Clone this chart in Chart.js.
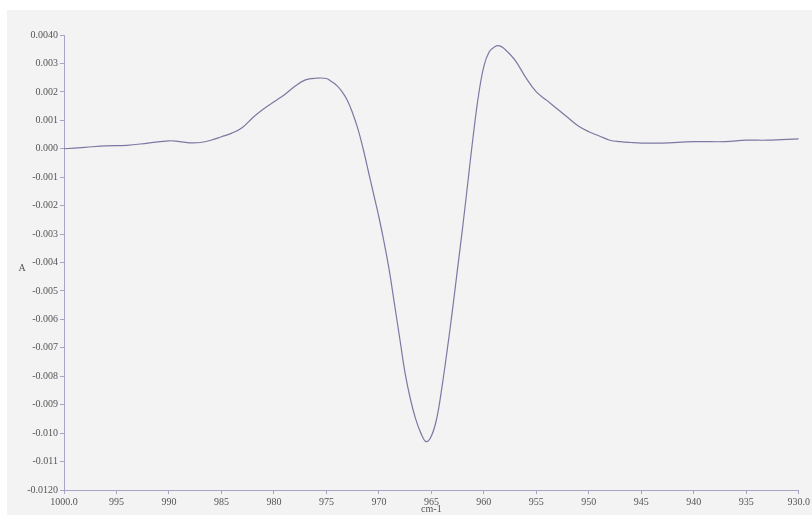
<!DOCTYPE html>
<html>
<head>
<meta charset="utf-8">
<script src="https://cdn.jsdelivr.net/npm/chart.js@4.4.1/dist/chart.umd.min.js"></script>
<style>
  html, body { margin: 0; padding: 0; background: #ffffff; }
  #sheet { position: absolute; left: 7px; top: 10px; width: 805px; height: 505px; background: #f3f3f3; }
  #wrap { position: absolute; left: 0; top: 0; width: 812px; height: 515px; }
</style>
</head>
<body>
<div id="sheet"></div>
<div id="wrap"><canvas id="spectrum" width="812" height="515"></canvas></div>
<script>
// wavenumber (cm-1) and absorbance
const wavenumbers = [1000, 998, 996, 994, 992, 990, 989, 988, 987, 986, 985, 984, 983, 982, 981, 980,
    979, 978, 977, 976, 975, 974.5, 974, 973.5, 973, 972.5, 972, 971.5, 971, 970.5, 970, 969.5, 969, 968.5,
    968, 967.5, 967, 966.5, 966, 965.5, 965, 964.5, 964, 963.5, 963, 962.5, 962, 961.5, 961, 960.5, 960,
    959.5, 959, 958.5, 958, 957, 956, 955, 954, 953, 952, 951, 950, 949, 948, 947, 946, 945, 943, 940,
    937, 935, 933, 930];
const absorbance = [0.0000, 0.00005, 0.0001, 0.00012, 0.0002, 0.00028, 0.00025, 0.00021, 0.00022, 0.0003,
    0.00042, 0.00055, 0.00075, 0.0011, 0.0014, 0.00165, 0.0019, 0.0022, 0.00242, 0.00248, 0.00247, 0.00236,
    0.00222, 0.0020, 0.0017, 0.00125, 0.0007, 0.0000, -0.0008, -0.0016, -0.0024, -0.0033, -0.0043, -0.0055,
    -0.0067, -0.0079, -0.0088, -0.0095, -0.0100, -0.0103, -0.0101, -0.0095, -0.0084, -0.0071, -0.0057,
    -0.0042, -0.0027, -0.0011, 0.0005, 0.0019, 0.0029, 0.0034, 0.00358, 0.00362, 0.0035, 0.0031, 0.0025,
    0.0020, 0.0017, 0.0014, 0.0011, 0.0008, 0.0006, 0.00045, 0.0003, 0.00025, 0.00022, 0.0002, 0.0002,
    0.00025, 0.00025, 0.0003, 0.0003, 0.00035];

const xTicks = [1000, 995, 990, 985, 980, 975, 970, 965, 960, 955, 950, 945, 940, 935, 930];
const yTicks = [0.004, 0.003, 0.002, 0.001, 0, -0.001, -0.002, -0.003, -0.004, -0.005, -0.006,
    -0.007, -0.008, -0.009, -0.010, -0.011, -0.012];

const points = wavenumbers.map((w, i) => ({ x: w, y: absorbance[i] }));

const axisColor = '#a9a4c6';
const textColor = '#555555';
const serif = { family: "'Liberation Serif', 'DejaVu Serif', serif", size: 10 };

// upright "A" beside the absorbance axis
const yTitle = {
    id: 'yTitle',
    afterDraw(chart) {
        const ctx = chart.ctx;
        const area = chart.chartArea;
        ctx.save();
        ctx.font = "10px 'Liberation Serif', serif";
        ctx.fillStyle = textColor;
        ctx.textAlign = 'center';
        ctx.textBaseline = 'middle';
        ctx.fillText('A', 22, (area.top + area.bottom) / 2 + 6);
        ctx.restore();
    }
};

new Chart(document.getElementById('spectrum'), {
    type: 'line',
    data: {
        datasets: [{
            data: points,
            borderColor: '#7b79a2',
            borderWidth: 1.2,
            pointRadius: 0,
            tension: 0.4,
            fill: false
        }]
    },
    options: {
        responsive: false,
        animation: false,
        layout: { padding: { top: 35, right: 12, left: 0, bottom: 0 } },
        plugins: { legend: { display: false }, tooltip: { enabled: false } },
        scales: {
            x: {
                type: 'linear',
                reverse: true,
                min: 930,
                max: 1000,
                afterBuildTicks(scale) { scale.ticks = xTicks.map(v => ({ value: v })); },
                afterFit(scale) { scale.height = 25; },
                ticks: {
                    color: textColor,
                    font: serif,
                    padding: 2,
                    maxRotation: 0,
                    autoSkip: false,
                    callback: v => (v === 1000 || v === 930) ? v.toFixed(1) : String(v)
                },
                grid: { display: true, drawOnChartArea: false, drawTicks: true, tickLength: 4, color: axisColor },
                border: { color: axisColor, width: 1 },
                title: { display: true, text: 'cm-1', color: textColor, font: serif, padding: { top: -2, bottom: 0 } }
            },
            y: {
                min: -0.012,
                max: 0.004,
                afterBuildTicks(scale) { scale.ticks = yTicks.map(v => ({ value: v })); },
                afterFit(scale) { scale.width = 64; },
                ticks: {
                    color: textColor,
                    font: serif,
                    padding: 2,
                    autoSkip: false,
                    callback: v => {
                        if (Math.abs(v - 0.004) < 1e-9) return '0.0040';
                        if (Math.abs(v + 0.012) < 1e-9) return '-0.0120';
                        return v.toFixed(3);
                    }
                },
                grid: { display: true, drawOnChartArea: false, drawTicks: true, tickLength: 4, color: axisColor },
                border: { color: axisColor, width: 1 }
            }
        }
    },
    plugins: [yTitle]
});
</script>
</body>
</html>
